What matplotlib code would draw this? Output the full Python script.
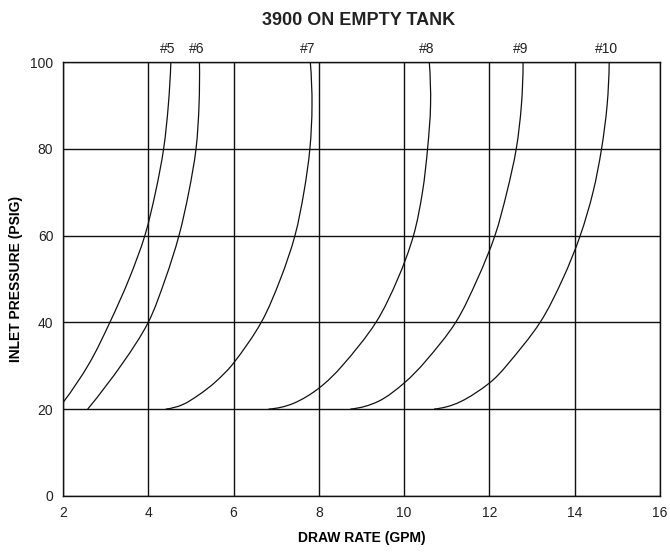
import matplotlib
matplotlib.use("Agg")
import numpy as np
import matplotlib.pyplot as plt
from matplotlib.path import Path
from matplotlib.patches import PathPatch

plt.rcParams["font.family"] = ["Liberation Sans", "DejaVu Sans"]

# draw rate (GPM) vs inlet pressure (PSIG) per orifice
names = ["#5", "#6", "#7", "#8", "#9", "#10"]

p5 = [21.5, 30.6, 40, 50, 60, 70, 80, 90, 100]
q5 = [2.0, 2.62, 3.10, 3.55, 3.92, 4.17, 4.36, 4.47, 4.53]

p6 = [20, 30.6, 40, 50, 60, 70, 80, 90, 100]
q6 = [2.58, 3.40, 4.0, 4.40, 4.72, 4.95, 5.12, 5.19, 5.20]

p7 = [20, 21.0, 23.3, 26.3, 30.6, 40, 50, 60, 70, 80, 90, 100]
q7 = [4.41, 4.80, 5.19, 5.58, 6.0, 6.65, 7.10, 7.44, 7.65, 7.79, 7.84, 7.80]

p8 = [20, 21.3, 24.8, 30.0, 40, 50, 60, 70, 80, 90, 100]
q8 = [6.82, 7.40, 8.0, 8.55, 9.34, 9.85, 10.22, 10.43, 10.55, 10.62, 10.59]

p9 = [20, 21.8, 26.0, 31.0, 40, 50, 60, 70, 80, 90, 100]
q9 = [8.74, 9.40, 10.0, 10.50, 11.21, 11.72, 12.13, 12.41, 12.63, 12.75, 12.79]

p10 = [20, 21.6, 26.0, 30.0, 40, 50, 60, 70, 80, 90, 100]
q10 = [10.70, 11.30, 12.0, 12.40, 13.19, 13.72, 14.13, 14.43, 14.63, 14.76, 14.81]

curves = [(q5, p5), (q6, p6), (q7, p7), (q8, p8), (q9, p9), (q10, p10)]

x_ticks = [2, 4, 6, 8, 10, 12, 14, 16]
y_ticks = [0, 20, 40, 60, 80, 100]


def unit(v):
    return v / np.hypot(*v)


def smooth_path(xs, ys, sx=42.9, sy=4.34):
    # bezier through the read points, tangents taken in screen-like units
    pts = np.column_stack([np.asarray(xs) * sx, np.asarray(ys) * sy])
    n = len(pts)
    tan = np.zeros_like(pts)
    for i in range(1, n - 1):
        tan[i] = unit(pts[i + 1] - pts[i - 1])
    # ends: mirror the neighbour tangent about the end chord
    c0 = unit(pts[1] - pts[0])
    tan[0] = unit(2 * np.dot(c0, tan[1]) * c0 - tan[1])
    c1 = unit(pts[-1] - pts[-2])
    tan[-1] = unit(2 * np.dot(c1, tan[-2]) * c1 - tan[-2])
    verts = [pts[0]]
    codes = [Path.MOVETO]
    for i in range(n - 1):
        L = np.hypot(*(pts[i + 1] - pts[i]))
        verts += [pts[i] + tan[i] * L / 3, pts[i + 1] - tan[i + 1] * L / 3, pts[i + 1]]
        codes += [Path.CURVE4] * 3
    verts = np.array(verts) / [sx, sy]
    return Path(verts, codes)


fig = plt.figure(figsize=(6.7, 5.54), dpi=100)
ax = fig.add_axes([0.094, 0.105, 0.891, 0.783])

ax.set_xlim(2, 16)
ax.set_ylim(0, 100)
ax.set_xticks(x_ticks)
ax.set_yticks(y_ticks)
ax.grid(True, color="#111111", linewidth=1.0)
ax.tick_params(length=0, labelsize=10, colors="#222222", pad=7)
for s in ax.spines.values():
    s.set_color("#111111")
    s.set_linewidth(1.0)

for name, (q, p) in zip(names, curves):
    ax.add_patch(PathPatch(smooth_path(q, p), facecolor="none",
                           edgecolor="#111111", linewidth=0.9))
    ax.annotate(name, (q[-1], p[-1]), xytext=(-2, 4), textcoords="offset points",
                ha="center", va="bottom", fontsize=10, color="#222222",
                annotation_clip=False)

ax.set_xlabel("DRAW RATE (GPM)", fontsize=10, fontweight="bold", labelpad=8)
ax.set_ylabel("INLET PRESSURE (PSIG)", fontsize=10, fontweight="bold", labelpad=5)
fig.suptitle("3900 ON EMPTY TANK", x=0.535, y=0.978, fontsize=13, fontweight="bold",
             color="#222222")

fig.savefig("out.png", dpi=100)
